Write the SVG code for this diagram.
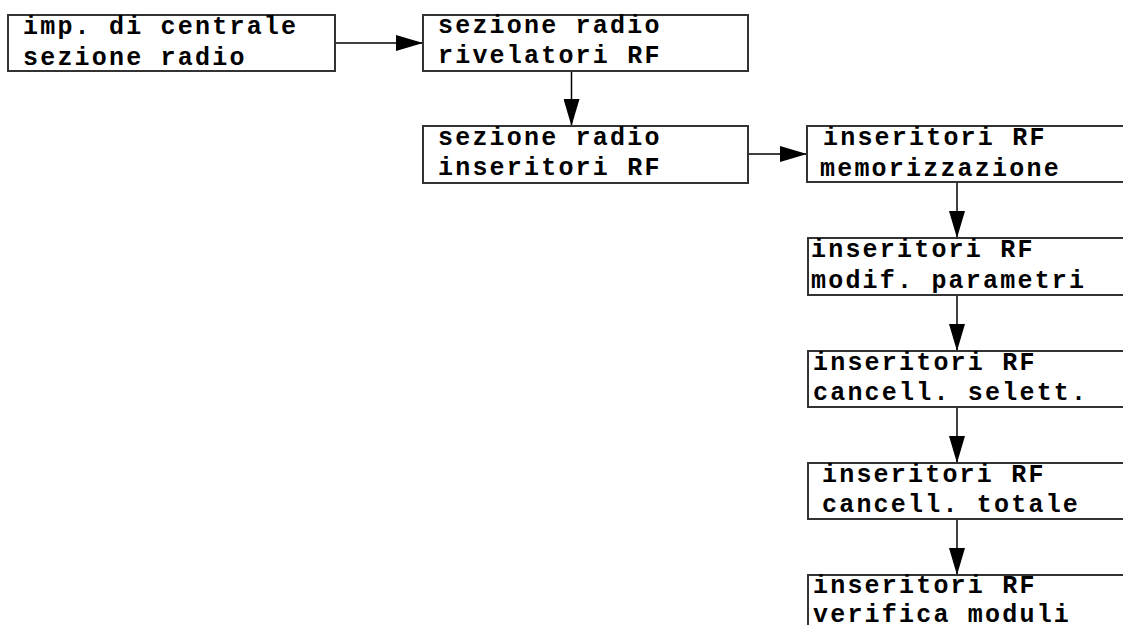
<svg xmlns="http://www.w3.org/2000/svg" width="1123" height="625" viewBox="0 0 1123 625">
<defs>
<marker id="arr" viewBox="0 0 27 16" refX="27" refY="8" markerWidth="27" markerHeight="16" markerUnits="userSpaceOnUse" orient="auto">
<path d="M0,0 L27,8 L0,16 Z" fill="#000"/>
</marker>
<style>
.box{fill:#fff;stroke:#333;stroke-width:2}
.t{font-family:"Liberation Mono","Courier New",monospace;font-weight:bold;font-size:25px;letter-spacing:2.2px;fill:#000}
.c{stroke:#000;stroke-width:1.5;fill:none;marker-end:url(#arr)}
</style>
</defs>
<rect width="1123" height="625" fill="#fff"/>
<g id="connectors">
<line class="c" x1="335" y1="43" x2="423" y2="43"/>
<line class="c" x1="571.5" y1="71" x2="571.5" y2="126"/>
<line class="c" x1="748" y1="154" x2="807" y2="154"/>
<line class="c" x1="957" y1="182" x2="957" y2="238"/>
<line class="c" x1="957" y1="295" x2="957" y2="351"/>
<line class="c" x1="957" y1="407" x2="957" y2="463"/>
<line class="c" x1="957" y1="519" x2="957" y2="575"/>
</g>
<g id="n1"><rect class="box" x="8" y="15" width="327" height="56"/><text class="t" x="23" y="34">imp. di centrale</text><text class="t" x="23" y="65">sezione radio</text></g>
<g id="n2"><rect class="box" x="423" y="15" width="325" height="56"/><text class="t" x="438" y="33">sezione radio</text><text class="t" x="438" y="63">rivelatori RF</text></g>
<g id="n3"><rect class="box" x="423" y="126" width="325" height="57"/><text class="t" x="438" y="145">sezione radio</text><text class="t" x="438" y="175">inseritori RF</text></g>
<g id="n4"><rect class="box" x="807" y="126" width="330" height="56"/><text class="t" x="823" y="145">inseritori RF</text><text class="t" x="820" y="176">memorizzazione</text></g>
<g id="n5"><rect class="box" x="808" y="238" width="330" height="57"/><text class="t" x="811" y="257">inseritori RF</text><text class="t" x="811" y="288">modif. parametri</text></g>
<g id="n6"><rect class="box" x="808" y="351" width="330" height="56"/><text class="t" x="813" y="370">inseritori RF</text><text class="t" x="813" y="400">cancell. selett.</text></g>
<g id="n7"><rect class="box" x="808" y="463" width="330" height="56"/><text class="t" x="822" y="482">inseritori RF</text><text class="t" x="822" y="512">cancell. totale</text></g>
<g id="n8"><rect class="box" x="808" y="575" width="330" height="60"/><text class="t" x="813" y="593">inseritori RF</text><text class="t" x="813" y="622">verifica moduli</text></g>
</svg>
